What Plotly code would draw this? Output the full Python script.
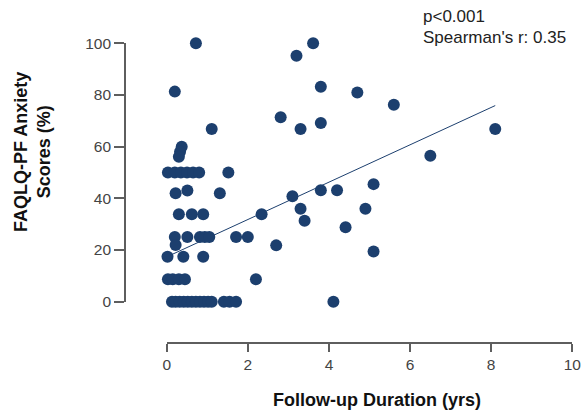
import plotly.graph_objects as go

# Follow-up duration (years) and FAQLQ-PF anxiety scores (%)
duration = [
    3.61, 3.20, 3.80, 4.70, 5.60, 2.81, 3.30, 3.80, 8.10, 6.50,
    3.80, 4.20, 3.10, 5.10, 3.30, 3.40, 4.90, 4.41, 2.34, 2.70,
    5.10, 2.20, 4.11,
    0.72, 0.20, 1.11, 0.37, 0.33, 0.30,
    0.03, 0.20, 0.35, 0.50, 0.65, 0.80, 1.52,
    0.22, 0.51, 1.31,
    0.30, 0.62, 0.90,
    0.20, 0.51, 0.82, 0.94, 1.05, 1.71, 2.00,
    0.22,
    0.02, 0.41, 0.90,
    0.03, 0.15, 0.30, 0.45,
    0.13, 0.22, 0.32, 0.42, 0.52, 0.62, 0.72, 0.82, 0.92, 1.02, 1.11,
    1.41, 1.55, 1.71,
]
anxiety = [
    100.0, 95.2, 83.2, 81.0, 76.2, 71.4, 66.8, 69.2, 66.8, 56.5,
    43.1, 43.1, 40.8, 45.5, 36.0, 31.3, 36.0, 28.8, 33.8, 21.8,
    19.4, 8.7, 0.0,
    100.0, 81.3, 66.8, 60.0, 58.0, 56.1,
    50.0, 50.0, 50.0, 50.0, 50.0, 50.0, 50.0,
    42.0, 43.0, 42.0,
    33.8, 33.8, 33.8,
    25.0, 25.0, 25.0, 25.0, 25.0, 25.0, 25.0,
    21.9,
    17.4, 17.4, 17.4,
    8.7, 8.7, 8.7, 8.7,
    0.0, 0.0, 0.0, 0.0, 0.0, 0.0, 0.0, 0.0, 0.0, 0.0, 0.0,
    0.0, 0.0, 0.0,
]

# Regression line end points
trend_x = [0.05, 8.10]
trend_y = [17.7, 75.9]

x_ticks = [0, 2, 4, 6, 8, 10]
y_ticks = [0, 20, 40, 60, 80, 100]

x_title = "Follow-up Duration (yrs)"
y_title = "FAQLQ-PF Anxiety<br>Scores (%)"
stat_lines = ["p<0.001", "Spearman's r: 0.35"]

NAVY = "#1c3f6e"
FONT = "Liberation Sans, Arial, sans-serif"
W, H = 588, 411

fig = go.Figure()
fig.add_trace(go.Scatter(
    x=trend_x, y=trend_y, mode="lines",
    line=dict(color=NAVY, width=1),
    hoverinfo="skip", showlegend=False, cliponaxis=False,
))
fig.add_trace(go.Scatter(
    x=duration, y=anxiety, mode="markers",
    marker=dict(color=NAVY, size=12, line=dict(width=0)),
    showlegend=False, cliponaxis=False,
))

axis_common = dict(
    showgrid=False, zeroline=False, showline=True,
    linecolor="#5e5e5e", linewidth=1.7,
    ticks="outside", tickcolor="#5e5e5e", tickwidth=1.7,
    tickfont=dict(family=FONT, size=15.5, color="#444444"),
    automargin=False,
)

fig.update_layout(
    width=W, height=H,
    margin=dict(l=0, r=0, t=0, b=0),
    paper_bgcolor="white", plot_bgcolor="white",
    xaxis=dict(
        domain=[166.7 / W, 572.3 / W], range=[0, 10],
        tickvals=x_ticks, ticklen=8,
        anchor="free", position=1 - 342.7 / H,
        **axis_common,
    ),
    yaxis=dict(
        domain=[1 - 301.7 / H, 1 - 43.3 / H], range=[0, 100],
        tickvals=y_ticks, ticklen=10,
        anchor="free", position=125 / W,
        **axis_common,
    ),
)

annotations = [
    dict(text=x_title, x=377 / W, y=1 - 400 / H, xref="paper", yref="paper",
         xanchor="center", yanchor="middle", showarrow=False,
         font=dict(family=FONT, size=18, color="#111111")),
    dict(text=y_title, x=32 / W, y=1 - 152 / H, xref="paper", yref="paper",
         xanchor="center", yanchor="middle", showarrow=False, textangle=-90,
         font=dict(family=FONT, size=18, color="#111111")),
    dict(text=stat_lines[0], x=422 / W, y=1 - 17 / H, xref="paper", yref="paper",
         xanchor="left", yanchor="middle", showarrow=False, borderpad=0,
         font=dict(family=FONT, size=17, color="#222222")),
    dict(text=stat_lines[1], x=422 / W, y=1 - 37 / H, xref="paper", yref="paper",
         xanchor="left", yanchor="middle", showarrow=False, borderpad=0,
         font=dict(family=FONT, size=17, color="#222222")),
]
for a in annotations[:2]:
    a["text"] = "<b>" + a["text"].replace("<br>", "</b><br><b>") + "</b>"
fig.update_layout(annotations=annotations)

fig.write_html("out.html")
